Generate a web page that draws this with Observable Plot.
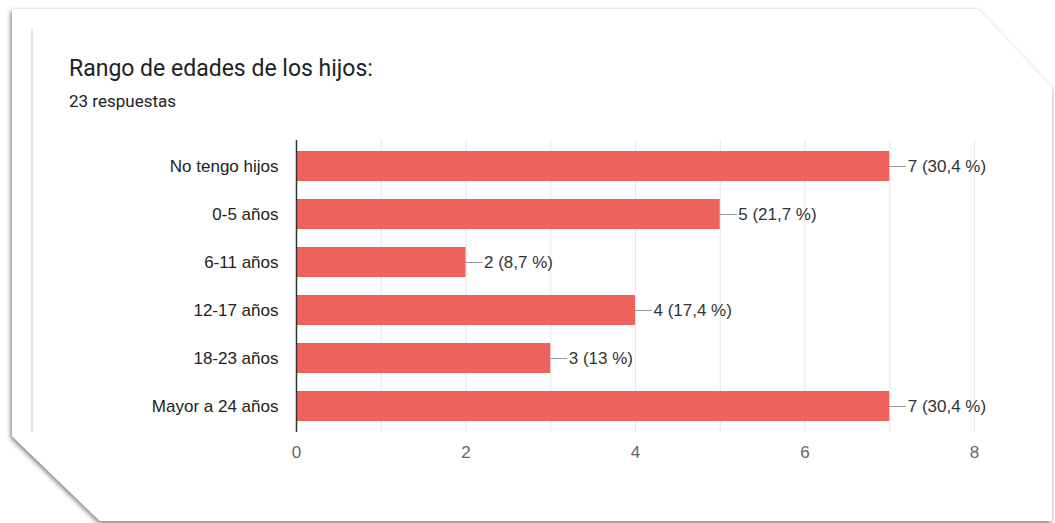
<!DOCTYPE html>
<html>
<head>
<meta charset="utf-8">
<script src="https://cdn.jsdelivr.net/npm/d3@7"></script>
<script src="https://cdn.jsdelivr.net/npm/@observablehq/plot@0.6"></script>
<style>
  html, body { margin: 0; padding: 0; background: #fff; }
  #wrap { position: relative; width: 1055px; height: 523px; overflow: hidden; }
  #bg { position: absolute; left: 0; top: 0; }
  #chart { position: absolute; left: 0; top: 0; }
  #title { position: absolute; left: 69px; top: 55px; font-family: Roboto, "Open Sans", sans-serif; font-size: 23px; color: #222; }
  #sub { position: absolute; left: 69px; top: 91px; font-family: Roboto, sans-serif; font-size: 17px; color: #222; }
</style>
</head>
<body>
<div id="wrap">
  <svg id="bg" width="1055" height="523">
    <defs>
      <filter id="sh" x="-5%" y="-5%" width="110%" height="110%">
        <feDropShadow dx="-1" dy="2" stdDeviation="2.5" flood-color="#000" flood-opacity="0.55"/>
      </filter>
    </defs>
    <polygon points="12,9 978,9 1052,88 1052,521 100,521 12,436" fill="#fff" filter="url(#sh)"/>
    <line x1="32" y1="28" x2="32" y2="432" stroke="#e4e4e4" stroke-width="2"/>
  </svg>
  <div id="chart"></div>
  <div id="title">Rango de edades de los hijos:</div>
  <div id="sub">23 respuestas</div>
</div>
<script>
const categories = ["No tengo hijos", "0-5 años", "6-11 años", "12-17 años", "18-23 años", "Mayor a 24 años"];
const counts = [7, 5, 2, 4, 3, 7];
const labels = ["7 (30,4 %)", "5 (21,7 %)", "2 (8,7 %)", "4 (17,4 %)", "3 (13 %)", "7 (30,4 %)"];
const xTicks = [0, 2, 4, 6, 8];

const data = categories.map((c, i) => ({cat: c, v: counts[i], label: labels[i]}));
const font = '"Liberation Sans", Arial, sans-serif';

const chart = Plot.plot({
  width: 1055,
  height: 523,
  marginLeft: 296,
  marginRight: 81,
  marginTop: 140,
  marginBottom: 91,
  style: {fontFamily: font, fontSize: "17px", background: "transparent", overflow: "visible"},
  x: {domain: [0, 8], ticks: xTicks, tickSize: 0, tickPadding: 13, label: null},
  y: {domain: categories, paddingInner: 0.38, paddingOuter: 0.19, tickSize: 0, tickPadding: 18, label: null},
  marks: [
    Plot.gridX(d3.range(0, 9), {stroke: "#e8e8e8", strokeOpacity: 1, strokeWidth: 1}),
    Plot.barX(data, {x: "v", y: "cat", fill: "#ef615b"}),
    Plot.ruleX([0], {stroke: "#333", strokeWidth: 1.5}),
    Plot.ruleY(data, {y: "cat", x1: "v", x2: d => d.v + 0.2, stroke: "#999", strokeWidth: 1}),
    Plot.text(data, {y: "cat", x: d => d.v + 0.2, text: "label", textAnchor: "start", dx: 1, fill: "#333", fontSize: 17, fontFamily: font})
  ]
});
chart.querySelectorAll('[aria-label="y-axis tick label"] text').forEach(t => t.setAttribute("fill", "#222"));
chart.querySelectorAll('[aria-label="x-axis tick label"] text').forEach(t => t.setAttribute("fill", "#666"));
document.getElementById("chart").appendChild(chart);
</script>
</body>
</html>
